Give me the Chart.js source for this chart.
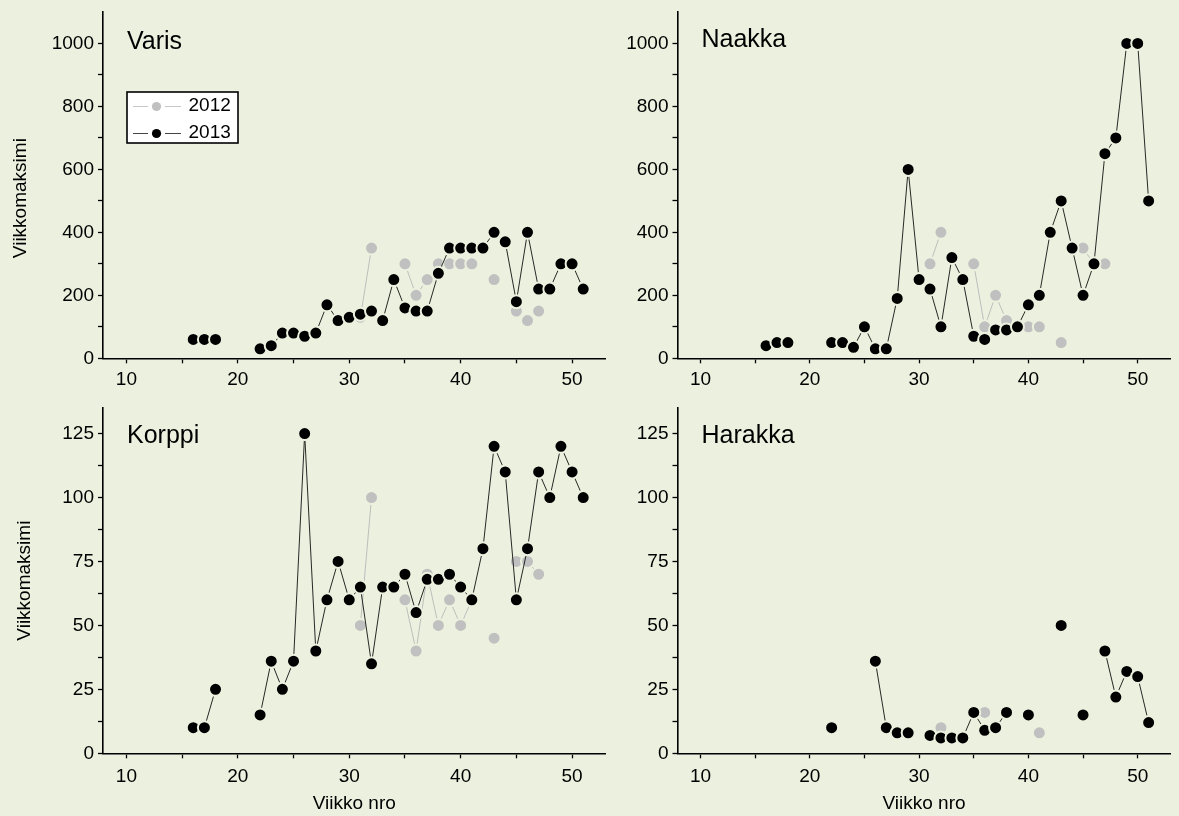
<!DOCTYPE html>
<html>
<head>
<meta charset="utf-8">
<script src="https://cdn.jsdelivr.net/npm/chart.js@4.4.1/dist/chart.umd.min.js"></script>
<style>
html,body{margin:0;padding:0;background:#EBF1DE;width:1179px;height:816px;overflow:hidden;}
canvas{position:absolute;}
</style>
</head>
<body>
<canvas id="cVaris" width="620" height="395" style="left:0;top:0"></canvas>
<canvas id="cNaakka" width="579" height="395" style="left:600px;top:0"></canvas>
<canvas id="cKorppi" width="620" height="426" style="left:0;top:390px"></canvas>
<canvas id="cHarakka" width="579" height="426" style="left:600px;top:390px"></canvas>
<script>
// ---- data (weeks 16..51, null = no observation) ----
const weeks = [16,17,18,19,20,21,22,23,24,25,26,27,28,29,30,31,32,33,34,35,36,37,38,39,40,41,42,43,44,45,46,47,48,49,50,51];
const seriesLabels = ['2012', '2013'];
const panelNames = ['Varis', 'Naakka', 'Korppi', 'Harakka'];
const yTitleText = 'Viikkomaksimi';
const xTitleText = 'Viikko nro';

const varis2012 = [null,null,null,null,null,null,null,null,null,null,null,null,null,null,null,130,350,null,null,300,200,250,300,300,300,300,null,250,null,150,120,150,null,null,null,null];
const varis2013 = [60,60,60,null,null,null,30,40,80,80,70,80,170,120,130,140,150,120,250,160,150,150,270,350,350,350,350,400,370,180,400,220,220,300,300,220];

const naakka2012 = [null,null,null,null,null,null,null,null,null,null,null,null,null,null,null,300,400,null,null,300,100,200,120,null,100,100,null,50,null,350,300,300,null,null,null,null];
const naakka2013 = [40,50,50,null,null,null,50,50,35,100,30,30,190,600,250,220,100,320,250,70,60,90,90,100,170,200,400,500,350,200,300,650,700,1000,1000,500];

const korppi2012 = [null,null,null,null,null,null,null,null,null,null,null,null,null,null,null,50,100,null,null,60,40,70,50,60,50,60,null,45,null,75,75,70,null,null,null,null];
const korppi2013 = [10,10,25,null,null,null,15,36,25,36,125,40,60,75,60,65,35,65,65,70,55,68,68,70,65,60,80,120,110,60,80,110,100,120,110,100];

const harakka2012 = [null,null,null,null,null,null,null,null,null,null,null,null,null,null,null,null,10,null,null,null,16,null,null,null,null,8,null,null,null,null,null,null,null,null,null,null];
const harakka2013 = [null,null,null,null,null,null,10,null,null,null,36,10,8,8,null,7,6,6,6,16,9,10,16,null,15,null,null,50,null,15,null,40,22,32,30,12];

// ---- styling ----
const FONT = '"Liberation Sans", Arial, sans-serif';
const BG = '#EBF1DE';
const GRAY = '#C0C0C0';
const BLACK = '#000000';
Chart.defaults.font.family = FONT;
Chart.defaults.color = '#000';

function toXY(vals) { return weeks.map((w, i) => ({ x: w, y: vals[i] })); }

function legendIcon(lineColor, dotColor) {
  const c = document.createElement('canvas');
  c.width = 48; c.height = 12;
  const g = c.getContext('2d');
  g.strokeStyle = lineColor; g.lineWidth = 1;
  g.beginPath(); g.moveTo(0, 6.5); g.lineTo(15, 6.5); g.moveTo(32, 6.5); g.lineTo(48, 6.5); g.stroke();
  g.fillStyle = dotColor; g.beginPath(); g.arc(23.5, 6.5, 4.6, 0, Math.PI * 2); g.fill();
  return c;
}
const icon2012 = legendIcon('#C8C8C8', GRAY);
const icon2013 = legendIcon('#444444', BLACK);

const panelDecor = {
  id: 'panelDecor',
  beforeDraw(chart, args, opts) {
    if (opts.legendBox) {
      const ctx = chart.ctx, b = opts.legendBox;
      ctx.save();
      ctx.fillStyle = '#FFFFFF';
      ctx.fillRect(b.x, b.y, b.w, b.h);
      ctx.strokeStyle = '#000'; ctx.lineWidth = 1.6;
      ctx.strokeRect(b.x, b.y, b.w, b.h);
      ctx.restore();
      const lg = chart.legend;
      if (lg) {
        lg.left = b.x; lg.top = b.y - 3.5;
        lg.right = b.x + 200; lg.bottom = b.y + 120;
        lg.width = 200; lg.height = 120;
      }
    }
  },
  afterDraw(chart, args, opts) {
    const ctx = chart.ctx, a = chart.chartArea;
    ctx.save();
    ctx.font = '25px ' + FONT;
    ctx.fillStyle = '#000';
    ctx.textBaseline = 'alphabetic';
    ctx.textAlign = 'left';
    ctx.fillText(opts.name, a.left + 24, a.top + opts.nameBaseline);
    ctx.restore();
  }
};

function makePanel(cfg) {
  const yTicks = [];
  for (let v = 0; v <= cfg.yTickMax + 1e-9; v += cfg.yStep) yTicks.push(v);
  const xTicks = [10, 15, 20, 25, 30, 35, 40, 45, 50];
  const ds = (label, vals, color, lineColor, order) => ({
    label, data: toXY(vals), order,
    borderColor: lineColor, borderWidth: 0.9,
    pointRadius: 6.5, pointHoverRadius: 6.5, pointBorderWidth: 2,
    pointBackgroundColor: color, pointBorderColor: BG,
    spanGaps: false, tension: 0, fill: false
  });
  return new Chart(document.getElementById(cfg.canvas), {
    type: 'line',
    data: {
      datasets: [
        ds(seriesLabels[0], cfg.d2012, GRAY, '#B8B8B8', 1),
        ds(seriesLabels[1], cfg.d2013, BLACK, '#111111', 0)
      ]
    },
    plugins: [panelDecor],
    options: {
      responsive: false,
      animation: false,
      events: [],
      layout: { padding: { left: 0, top: cfg.padTop, right: cfg.padRight, bottom: 0 } },
      plugins: {
        tooltip: { enabled: false },
        title: { display: false },
        legend: {
          display: !!cfg.legend,
          position: 'chartArea',
          align: 'start',
          labels: {
            usePointStyle: true,
            pointStyleWidth: 44,
            padding: 8,
            font: { size: 19, family: FONT },
            color: '#000',
            generateLabels: () => [
              { text: seriesLabels[0], pointStyle: icon2012, fillStyle: GRAY, strokeStyle: GRAY, lineWidth: 0, hidden: false, datasetIndex: 0, fontColor: '#000' },
              { text: seriesLabels[1], pointStyle: icon2013, fillStyle: BLACK, strokeStyle: BLACK, lineWidth: 0, hidden: false, datasetIndex: 1, fontColor: '#000' }
            ]
          }
        },
        panelDecor: {
          name: cfg.name,
          nameBaseline: cfg.nameBaseline,
          legendBox: cfg.legend ? { x: 127, y: 92, w: 111, h: 51 } : null
        }
      },
      scales: {
        x: {
          type: 'linear', position: 'bottom',
          min: 7.9, max: 53,
          afterBuildTicks: (s) => { s.ticks = xTicks.map(v => ({ value: v })); },
          afterFit: (s) => { s.height = cfg.xAxisHeight; s.paddingLeft = 0; s.paddingRight = 0; s.paddingTop = 0; s.paddingBottom = 0; },
          ticks: {
            autoSkip: false, maxRotation: 0, padding: cfg.xTickPad,
            font: { size: 19, family: FONT }, color: '#000',
            callback: (v) => (v % 10 === 0 ? String(v) : '')
          },
          grid: { drawOnChartArea: false, drawTicks: true, tickLength: 5, tickColor: '#000', tickWidth: 1.3 },
          border: { display: true, color: '#000', width: 1.6 },
          title: {
            display: !!cfg.xTitle, text: xTitleText,
            font: { size: 19, family: FONT }, color: '#000',
            padding: { top: 0, bottom: 1 }
          }
        },
        y: {
          type: 'linear', position: 'left',
          min: 0, max: cfg.yMax,
          afterBuildTicks: (s) => { s.ticks = yTicks.map(v => ({ value: v })); },
          afterFit: (s) => {
            s.width = cfg.yAxisWidth; s.paddingLeft = 0; s.paddingRight = 0; s.paddingTop = 0; s.paddingBottom = 0;
            if (!s._shiftWrapped && cfg.yTitleShift) {
              const orig = s.drawTitle;
              s.drawTitle = function () {
                this.ctx.save();
                this.ctx.translate(0, cfg.yTitleShift);
                orig.call(this);
                this.ctx.restore();
              };
              s._shiftWrapped = true;
            }
          },
          ticks: {
            autoSkip: false, padding: 4,
            font: { size: 19, family: FONT }, color: '#000',
            callback: (v) => (Math.abs(v / cfg.yLabelStep - Math.round(v / cfg.yLabelStep)) < 1e-6 ? String(v) : '')
          },
          grid: { drawOnChartArea: false, drawTicks: true, tickLength: 5, tickColor: '#000', tickWidth: 1.3 },
          border: { display: true, color: '#000', width: 1.6 },
          title: {
            display: !!cfg.yTitle, text: yTitleText,
            font: { size: 19, family: FONT }, color: '#000',
            padding: { top: cfg.yTitlePad, bottom: 0 }
          }
        }
      }
    }
  });
}

makePanel({ canvas: 'cVaris', name: panelNames[0], d2012: varis2012, d2013: varis2013,
  yMax: 1100, yTickMax: 1000, yStep: 100, yLabelStep: 200,
  yAxisWidth: 103, yTitle: true, yTitlePad: 9.6, yTitleShift: 13,
  xAxisHeight: 36.7, xTitle: false, xTickPad: 5,
  padTop: 12, padRight: 14.5, legend: true, nameBaseline: 37 });

makePanel({ canvas: 'cNaakka', name: panelNames[1], d2012: naakka2012, d2013: naakka2013,
  yMax: 1100, yTickMax: 1000, yStep: 100, yLabelStep: 200,
  yAxisWidth: 77.5, yTitle: false, yTitlePad: 0, yTitleShift: 0,
  xAxisHeight: 36.7, xTitle: false, xTickPad: 5,
  padTop: 12, padRight: 0, legend: false, nameBaseline: 35 });

makePanel({ canvas: 'cKorppi', name: panelNames[2], d2012: korppi2012, d2013: korppi2013,
  yMax: 135, yTickMax: 125, yStep: 12.5, yLabelStep: 25,
  yAxisWidth: 103, yTitle: true, yTitlePad: 13.6, yTitleShift: 0,
  xAxisHeight: 62.7, xTitle: true, xTickPad: 7,
  padTop: 18, padRight: 14.5, legend: false, nameBaseline: 34.5 });

makePanel({ canvas: 'cHarakka', name: panelNames[3], d2012: harakka2012, d2013: harakka2013,
  yMax: 135, yTickMax: 125, yStep: 12.5, yLabelStep: 25,
  yAxisWidth: 77.5, yTitle: false, yTitlePad: 0, yTitleShift: 0,
  xAxisHeight: 62.7, xTitle: true, xTickPad: 7,
  padTop: 18, padRight: 0, legend: false, nameBaseline: 34.5 });
</script>
</body>
</html>
